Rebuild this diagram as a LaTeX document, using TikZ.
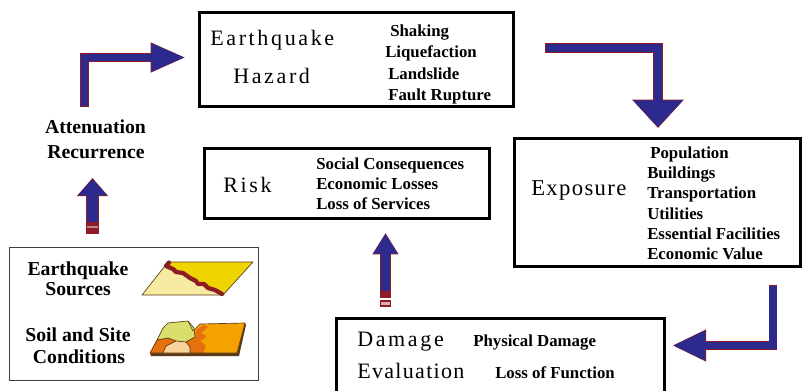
\documentclass[tikz,border=0pt]{standalone}
\usepackage{fontspec}
\setmainfont{Liberation Serif}
\newfontfamily\spacedserif[LetterSpace=12]{Liberation Serif}
\newfontfamily\widerserif[LetterSpace=6]{Liberation Serif}
\usetikzlibrary{arrows.meta}

\definecolor{navy}{HTML}{2C2A8C}
\definecolor{rim}{HTML}{8E1B26}
\definecolor{sandlight}{HTML}{F7EBA2}
\definecolor{sandyellow}{HTML}{F0D400}
\definecolor{soilgreen}{HTML}{D8DE6C}
\definecolor{soilorange}{HTML}{F3A200}
\definecolor{soildark}{HTML}{E6700E}
\definecolor{soilpeach}{HTML}{F9D29C}
\definecolor{mapline}{HTML}{5A3A18}

\tikzset{
  stagebox/.style={draw=black, line width=2pt, inner sep=0pt, anchor=north west},
  sourcebox/.style={draw=black!75, line width=1.1pt, inner sep=0pt, anchor=north west},
  title/.style={inner sep=0pt, anchor=base west, font=\spacedserif\fontsize{16.5}{19}\selectfont},
  item/.style={inner sep=0pt, anchor=base west, font=\fontsize{12.6}{15}\selectfont\bfseries},
  side/.style={inner sep=0pt, anchor=base, font=\fontsize{14.8}{17}\selectfont\bfseries},
  mapedge/.style={draw=mapline, line width=0.5pt, line join=round},
  faultline/.style={draw=rim, line width=3.2pt, line join=round, line cap=round},
}

\begin{document}
\begin{tikzpicture}[x=0.75pt, y=-0.75pt]
\clip (0,0) rectangle (803,390);
\fill[white] (0,0) rectangle (803,390);

% ---------- stage boxes ----------
\node[stagebox, minimum width=235.5pt, minimum height=70.5pt] (hazard) at (198,11) {};
\node[title] (hz1) at (210,45) {Earthquake};
\node[title] (hz2) at (233,83) {Hazard};
\node[item] (hzi1) at (390,36) {Shaking};
\node[item] (hzi2) at (385,57.5) {Liquefaction};
\node[item] (hzi3) at (388,79) {Landslide};
\node[item] (hzi4) at (388,100.5) {Fault Rupture};

\node[stagebox, minimum width=214.5pt, minimum height=96pt] (exposure) at (513,137) {};
\node[title, font=\widerserif\fontsize{17}{19}\selectfont] (ex0) at (531,195) {Exposure};
\node[item] (exi1) at (650,158) {Population};
\node[item] (exi2) at (647,178) {Buildings};
\node[item] (exi3) at (647,198.5) {Transportation};
\node[item] (exi4) at (647,219) {Utilities};
\node[item] (exi5) at (647,239) {Essential Facilities};
\node[item] (exi6) at (647,259) {Economic Value};

\node[stagebox, minimum width=213.75pt, minimum height=52.5pt] (risk) at (203,147) {};
\node[title] (rk0) at (223,192) {Risk};
\node[item] (rki1) at (316,169) {Social Consequences};
\node[item] (rki2) at (316,189) {Economic Losses};
\node[item] (rki3) at (316,209) {Loss of Services};

\node[stagebox, minimum width=246pt, minimum height=62pt] (damage) at (335,317) {};
\node[title] (dm1) at (357,346.5) {Damage};
\node[title, font=\widerserif\fontsize{16.5}{19}\selectfont] (dm2) at (357,378) {Evaluation};
\node[item] (dmi1) at (473,346.5) {Physical Damage};
\node[item] (dmi2) at (495,378) {Loss of Function};

% ---------- inputs ----------
\node[side] (att1) at (95.5,133) {Attenuation};
\node[side] (att2) at (96,158) {Recurrence};

\node[sourcebox, minimum width=186.75pt, minimum height=99.75pt] (sources) at (9,247) {};
\node[side] (src1) at (78,275) {Earthquake};
\node[side] (src2) at (78,295.5) {Sources};
\node[side] (src3) at (78,341.5) {Soil and Site};
\node[side] (src4) at (79,363) {Conditions};

% fault map
\fill[sandlight] (142,295) -- (168,262) -- (169,262) -- (167,266) -- (172,270) -- (182,273)
  -- (190,277) -- (197,282) -- (202,283) -- (207,286) -- (215,290) -- (223,295) -- cycle;
\fill[sandyellow] (169,262) -- (253,262) -- (223,295) -- (215,290) -- (207,286) -- (202,283)
  -- (197,282) -- (190,277) -- (182,273) -- (172,270) -- (167,266) -- cycle;
\draw[faultline] (169,262.5) -- (166,266) -- (173,269) -- (176,272) -- (183,273) -- (190,278)
  -- (196,281) -- (198,284) -- (204,284) -- (208,288) -- (215,290) -- (222,294);
\draw[mapedge] (142,295) -- (168,262) -- (253,262) -- (223,295) -- cycle;

% soil map
\fill[mapline] (150,353) -- (237,353) -- (245,323) -- (246,325) -- (239,356) -- (151,356) -- cycle;
\fill[soilorange] (150,353) -- (157,340) -- (163,328) -- (168,323) -- (188,321) -- (193,331)
  -- (200,324) -- (245,323) -- (237,353) -- cycle;
\fill[soilgreen] (160,333) -- (168,323) -- (188,321) -- (194,328) -- (195,337) -- (186,342)
  -- (176,341) -- (168,338) -- (157,340) -- cycle;
\fill[soildark] (157,340) -- (168,338) -- (176,341) -- (166,346) -- (163,353) -- (150,353) -- cycle;
\fill[soilpeach] (163,353) -- (166,346) -- (176,341) -- (186,342) -- (190,347) -- (190,353) -- cycle;
\fill[soildark] (186,342) -- (195,337) -- (196,330) -- (204,325) -- (208,327) -- (201,333)
  -- (207,336) -- (200,341) -- (206,346) -- (203,353) -- (190,353) -- (190,347) -- cycle;
\draw[mapedge] (150,353) -- (157,340) -- (163,328) -- (168,323) -- (188,321) -- (193,331)
  -- (200,324) -- (245,323) -- (237,353) -- cycle;
\draw[mapedge] (157,340) -- (168,338) -- (176,341) -- (186,342) -- (195,337) -- (194,328) -- (188,321);
\draw[mapedge] (176,341) -- (166,346) -- (163,353);
\draw[mapedge] (186,342) -- (190,347) -- (190,353);

% ---------- block arrows ----------
\coordinate (a1s) at (84.5,107);   \coordinate (a1t) at (186,57.5);
\coordinate (a2s) at (545,48);     \coordinate (a2t) at (658,128);
\coordinate (a3s) at (773,285);    \coordinate (a3t) at (672,345.5);
\coordinate (a4s) at (385.5,298);  \coordinate (a4t) at (385.5,233);
\coordinate (a5s) at (92.5,233.5); \coordinate (a5t) at (92.5,178);

% recurrence -> hazard
\draw[rim, line width=6.9pt, line join=miter, -{Triangle[width=20.5pt,length=26.5pt]}] (a1s) |- (a1t);
\draw[navy, line width=5.9pt, line join=miter, shorten <=0.6pt, shorten >=0.7pt,
      -{Triangle[width=19.3pt,length=25.3pt]}] (a1s) |- (a1t);
% hazard -> exposure
\draw[rim, line width=7.6pt, line join=miter, -{Triangle[width=37.5pt,length=21.3pt]}] (a2s) -| (a2t);
\draw[navy, line width=6.6pt, line join=miter, shorten <=0.6pt, shorten >=0.7pt,
      -{Triangle[width=36.3pt,length=20.1pt]}] (a2s) -| (a2t);
% exposure -> damage
\draw[rim, line width=6.6pt, line join=miter, -{Triangle[width=22pt,length=25.5pt]}] (a3s) |- (a3t);
\draw[navy, line width=5.6pt, line join=miter, shorten <=0.6pt, shorten >=0.7pt,
      -{Triangle[width=20.8pt,length=24.3pt]}] (a3s) |- (a3t);
% damage -> risk
\draw[rim, line width=8.4pt, -{Triangle[width=18.5pt,length=16pt]}] (a4s) -- (a4t);
\draw[navy, line width=7.4pt, shorten <=5pt, shorten >=0.7pt,
      -{Triangle[width=17.3pt,length=14.8pt]}] (a4s) -- (a4t);
\draw[rim, line width=0.8pt, fill=rim!35] (380.2,301) rectangle (390.8,306);
% sources -> attenuation
\draw[rim, line width=9.2pt, -{Triangle[width=22.5pt,length=13.5pt]}] (a5s) -- (a5t);
\draw[navy, line width=8.2pt, shorten <=9pt, shorten >=0.7pt,
      -{Triangle[width=21.3pt,length=12.3pt]}] (a5s) -- (a5t);
\fill[rim!55] (86.8,226) rectangle (98.2,227.5);
\end{tikzpicture}
\end{document}
